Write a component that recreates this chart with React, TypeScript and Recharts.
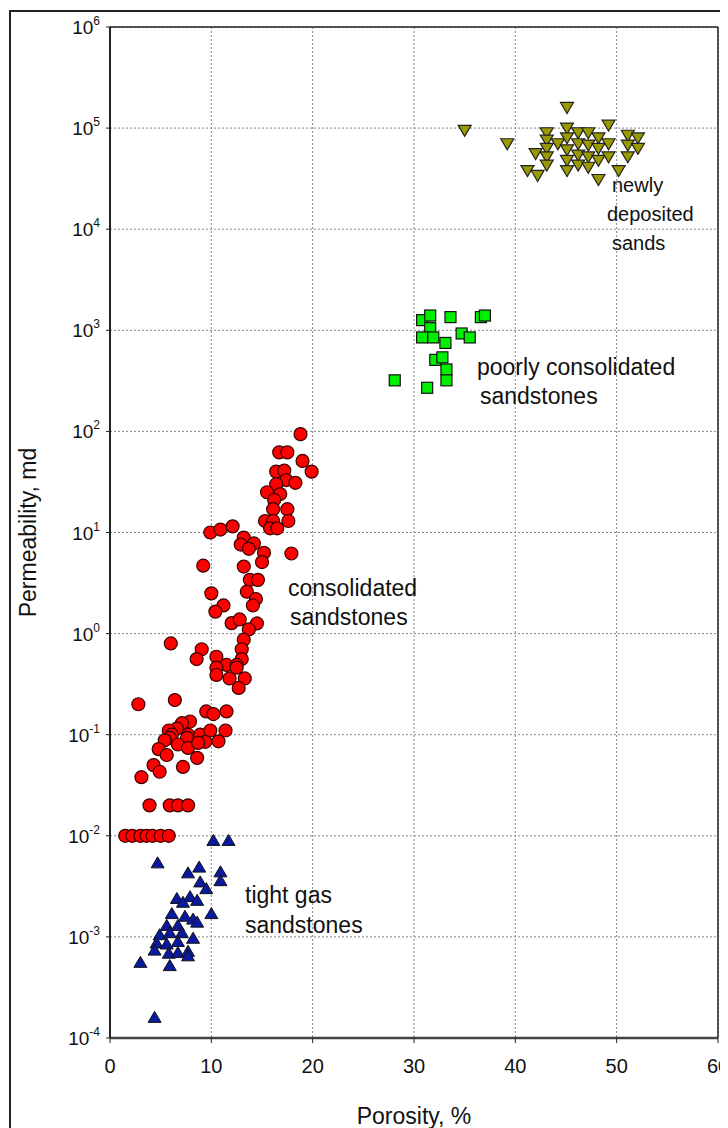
import {
  CartesianGrid,
  ReferenceLine,
  Scatter,
  ScatterChart,
  XAxis,
  YAxis,
} from "recharts"

// porosity (%), permeability (md)
const tightGas: [number, number][] = [
  [10.2, 0.009], [11.7, 0.009], [4.7, 0.0054], [8.8, 0.0049], [7.7, 0.0043],
  [10.9, 0.0044], [10.9, 0.0036], [8.9, 0.0035], [9.5, 0.003], [6.6, 0.0024],
  [7.9, 0.0025], [8.6, 0.0023], [7.2, 0.0022], [10.0, 0.0017], [6.1, 0.0017],
  [7.4, 0.0016], [8.2, 0.0015], [5.6, 0.0013], [6.7, 0.0013], [8.6, 0.0014],
  [4.9, 0.00105], [5.9, 0.0011], [7.1, 0.0011], [8.2, 0.00097], [4.6, 0.00087],
  [5.6, 0.00085], [6.7, 0.0009], [4.4, 0.00074], [5.8, 0.00069], [6.7, 0.0007],
  [7.7, 0.00072], [3.0, 0.00056], [5.9, 0.00052], [7.7, 0.00065], [4.4, 0.00016],
]

const consolidated: [number, number][] = [
  [18.8, 94], [16.7, 62], [17.5, 62], [19.0, 51], [19.9, 40], [16.4, 40],
  [17.2, 41], [17.4, 33], [18.3, 31], [16.4, 30], [15.5, 25], [16.8, 24],
  [16.2, 21], [16.1, 17], [17.5, 17], [15.3, 13], [16.1, 13], [17.6, 13],
  [15.8, 11], [16.5, 11], [9.9, 10], [10.9, 10.7], [12.1, 11.5], [13.2, 8.9],
  [12.9, 7.6], [14.2, 7.8], [13.7, 6.9], [15.2, 6.3], [17.9, 6.2], [15.0, 5.1],
  [9.2, 4.7], [13.2, 4.6], [13.8, 3.4], [14.6, 3.4], [10.0, 2.5], [13.5, 2.6],
  [14.4, 2.2], [14.1, 1.9], [11.2, 1.9], [10.4, 1.65], [12.0, 1.27], [12.8, 1.38],
  [14.5, 1.26], [13.7, 1.1], [13.2, 0.87], [13.0, 0.7], [9.05, 0.7], [6.0, 0.8],
  [8.55, 0.56], [13.0, 0.56], [10.5, 0.59], [11.5, 0.49], [12.5, 0.49], [10.5, 0.46],
  [10.5, 0.39], [13.3, 0.36], [11.8, 0.36], [12.5, 0.46], [12.7, 0.29],
  [2.8, 0.2], [6.4, 0.22], [9.5, 0.17], [11.5, 0.17], [10.2, 0.16], [7.9, 0.135],
  [7.1, 0.13], [6.6, 0.115], [5.8, 0.11], [7.7, 0.1], [6.1, 0.1], [5.9, 0.093],
  [7.6, 0.093], [8.9, 0.1], [9.9, 0.11], [11.4, 0.11], [9.4, 0.085], [10.7, 0.086],
  [5.4, 0.088], [6.7, 0.08], [7.7, 0.074], [8.7, 0.083], [4.8, 0.072], [5.6, 0.063],
  [8.6, 0.059], [4.3, 0.05], [7.2, 0.048], [4.9, 0.043], [3.1, 0.038],
  [3.9, 0.02], [5.9, 0.02], [6.7, 0.02], [7.7, 0.02],
  [1.5, 0.01], [2.2, 0.01], [3.0, 0.01], [3.6, 0.01], [4.2, 0.01], [5.0, 0.01], [5.8, 0.01],
]

const poorlyConsolidated: [number, number][] = [
  [30.8, 1260], [31.6, 1400], [33.6, 1350], [36.6, 1350], [37.0, 1400],
  [31.6, 1050], [30.8, 850], [31.9, 850], [33.1, 750], [34.7, 930], [35.5, 850],
  [32.1, 510], [32.8, 540], [33.2, 410], [33.2, 320], [31.3, 270], [28.1, 320],
]

const newlyDeposited: [number, number][] = [
  [35.0, 95000], [39.2, 70000], [45.1, 160000], [45.1, 100000], [41.2, 38000],
  [42.2, 34000], [42.0, 56000], [43.1, 90000], [43.1, 76000], [43.1, 63000],
  [43.1, 52000], [43.1, 43000], [44.2, 70000], [45.1, 80000], [45.1, 61000],
  [45.1, 48000], [45.1, 38000], [46.2, 90000], [46.2, 70000], [46.2, 54000],
  [46.2, 43000], [47.2, 90000], [47.2, 68000], [47.2, 52000], [47.2, 41000],
  [48.2, 80000], [48.2, 63000], [48.2, 48000], [48.2, 31000], [49.2, 107000],
  [49.2, 70000], [49.2, 52000], [50.2, 38000], [51.1, 85000], [51.1, 68000],
  [51.1, 52000], [52.1, 80000], [52.1, 63000],
]

const xTicks = [0, 10, 20, 30, 40, 50, 60]
const yTicks = [1e-4, 1e-3, 1e-2, 1e-1, 1, 10, 100, 1e3, 1e4, 1e5, 1e6]

const toRows = (pts: [number, number][]) => pts.map(([x, y]) => ({ x, y }))

function PowerTick({ x, y, payload }: any) {
  const exp = Math.round(Math.log10(payload.value))
  return (
    <text x={x} y={y} dy={7} textAnchor="end" fontSize={19} fill="#111">
      10<tspan dy={-9} fontSize={12}>{exp}</tspan>
    </text>
  )
}

const Circle = ({ cx, cy }: any) => (
  <circle cx={cx} cy={cy} r={6.5} fill="#ff0000" stroke="#3a0000" strokeWidth={1.2} />
)
const Square = ({ cx, cy }: any) => (
  <rect x={cx - 5.5} y={cy - 5.5} width={11} height={11} fill="#00ee00" stroke="#111" strokeWidth={1.2} />
)
const TriDown = ({ cx, cy }: any) => (
  <path d={`M${cx - 6.5},${cy - 5} L${cx + 6.5},${cy - 5} L${cx},${cy + 6} Z`} fill="#9a9a00" stroke="#222" strokeWidth={1.2} />
)
const TriUp = ({ cx, cy }: any) => (
  <path d={`M${cx - 6.5},${cy + 5} L${cx + 6.5},${cy + 5} L${cx},${cy - 6} Z`} fill="#0a1aa0" stroke="#111" strokeWidth={1} />
)

const note = (left: number, top: number, text: string, size = 23) => (
  <div
    key={text + top}
    style={{ position: "absolute", left, top, fontSize: size, lineHeight: "26px", color: "#111", whiteSpace: "nowrap" }}
  >
    {text}
  </div>
)

export default function App() {
  return (
    <div
      style={{
        position: "relative",
        width: 720,
        height: 1120,
        overflow: "hidden",
        background: "#fff",
        fontFamily: "'Liberation Sans', Arial, sans-serif",
      }}
    >
      <div
        style={{
          position: "absolute",
          left: 1,
          top: 2,
          width: 760,
          height: 1160,
          border: "2px solid #222",
        }}
      />
      <ScatterChart width={720} height={1120} margin={{ top: 19, right: 10, bottom: 0, left: 0 }}>
        <CartesianGrid stroke="#888" strokeDasharray="2 2" />
        <XAxis
          type="number"
          dataKey="x"
          domain={[0, 60]}
          ticks={xTicks}
          height={90}
          tick={{ fontSize: 20, fill: "#111" }}
          tickSize={5}
          tickMargin={16}
          tickLine={{ stroke: "#222" }}
          axisLine={{ stroke: "#444", strokeWidth: 2.5 }}
          label={{ value: "Porosity, %", position: "insideBottom", offset: 4, style: { fontSize: 23, fill: "#111" } }}
        />
        <YAxis
          type="number"
          dataKey="y"
          scale="log"
          domain={[1e-4, 1e6]}
          allowDataOverflow
          ticks={yTicks}
          width={102}
          tick={<PowerTick />}
          tickSize={4}
          tickMargin={6}
          tickLine={{ stroke: "#222" }}
          axisLine={{ stroke: "#222", strokeWidth: 2 }}
          label={{
            value: "Permeability, md",
            angle: -90,
            position: "insideLeft",
            offset: 20,
            style: { textAnchor: "middle", fontSize: 23, fill: "#111" },
          }}
        />
        <ReferenceLine y={1e6} stroke="#222" strokeWidth={1.5} />
        <ReferenceLine x={60} stroke="#222" strokeWidth={1.5} />
        <Scatter data={toRows(consolidated)} shape={<Circle />} isAnimationActive={false} />
        <Scatter data={toRows(tightGas)} shape={<TriUp />} isAnimationActive={false} />
        <Scatter data={toRows(poorlyConsolidated)} shape={<Square />} isAnimationActive={false} />
        <Scatter data={toRows(newlyDeposited)} shape={<TriDown />} isAnimationActive={false} />
      </ScatterChart>
      {note(237, 874, "tight gas")}
      {note(237, 904, "sandstones")}
      {note(280, 567, "consolidated")}
      {note(282, 596, "sandstones")}
      {note(469, 346, "poorly consolidated")}
      {note(472, 375, "sandstones")}
      {note(604, 164, "newly", 20)}
      {note(599, 193, "deposited", 20)}
      {note(604, 222, "sands", 20)}
    </div>
  )
}
